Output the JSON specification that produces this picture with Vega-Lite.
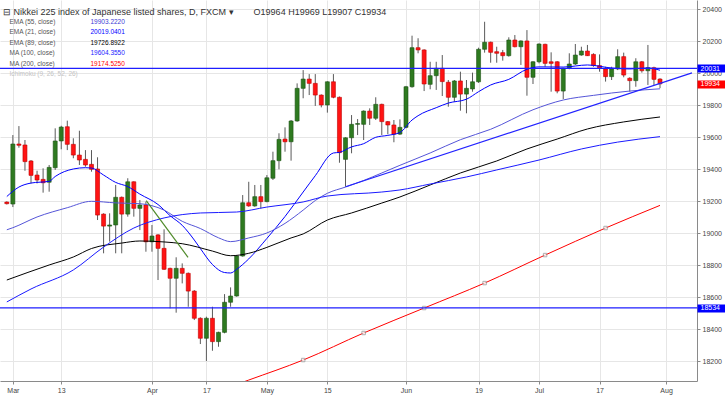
{
  "$schema": "https://vega.github.io/schema/vega-lite/v6.json",
  "width": 697,
  "height": 381,
  "autosize": "none",
  "padding": {"left": 0, "top": 0, "right": 28, "bottom": 15},
  "background": "white",
  "config": {
    "view": {"stroke": null},
    "font": "Liberation Sans",
    "axis": {
      "grid": true, "gridColor": "#e6e6e6", "domainColor": "#8a8a8a",
      "tickColor": "#8a8a8a", "tickSize": 3, "labelFontSize": 7,
      "labelColor": "#444444", "labelPadding": 2, "labelOverlap": false
    }
  },
  "title": {
    "text": "⊟ Nikkei 225 index of Japanese listed shares, D, FXCM ▾\u00a0\u00a0\u00a0\u00a0\u00a0\u00a0\u00a0 O19964 H19969 L19907 C19934",
    "anchor": "start",
    "frame": "group",
    "orient": "top",
    "offset": -17,
    "dx": 3,
    "fontSize": 9,
    "fontWeight": "normal",
    "color": "#333333"
  },
  "resolve": {"axis": {"y": "independent"}},
  "datasets": {
    "candles": [
      {"i":-1,"o":19195,"h":19200,"l":19180,"c":19185},
      {"i":0,"o":19183,"h":19614,"l":19164,"c":19558},
      {"i":1,"o":19558,"h":19670,"l":19535,"c":19550},
      {"i":2,"o":19552,"h":19583,"l":19391,"c":19448},
      {"i":3,"o":19452,"h":19458,"l":19312,"c":19362},
      {"i":4,"o":19364,"h":19391,"l":19312,"c":19333},
      {"i":5,"o":19337,"h":19406,"l":19254,"c":19316},
      {"i":6,"o":19319,"h":19427,"l":19260,"c":19412},
      {"i":7,"o":19410,"h":19656,"l":19396,"c":19577},
      {"i":8,"o":19577,"h":19672,"l":19525,"c":19664},
      {"i":9,"o":19666,"h":19704,"l":19520,"c":19556},
      {"i":10,"o":19556,"h":19594,"l":19469,"c":19489},
      {"i":11,"o":19489,"h":19641,"l":19427,"c":19458},
      {"i":12,"o":19462,"h":19520,"l":19416,"c":19427},
      {"i":13,"o":19431,"h":19520,"l":19385,"c":19400},
      {"i":14,"o":19402,"h":19475,"l":19083,"c":19114},
      {"i":15,"o":19120,"h":19125,"l":18875,"c":19045},
      {"i":16,"o":19045,"h":19125,"l":18948,"c":19052},
      {"i":17,"o":19052,"h":19302,"l":18875,"c":19225},
      {"i":18,"o":19225,"h":19230,"l":18875,"c":19120},
      {"i":19,"o":19120,"h":19344,"l":19104,"c":19322},
      {"i":20,"o":19322,"h":19325,"l":19104,"c":19156},
      {"i":21,"o":19156,"h":19208,"l":19020,"c":19177},
      {"i":22,"o":19177,"h":19198,"l":18885,"c":18947},
      {"i":23,"o":18947,"h":19052,"l":18885,"c":18983},
      {"i":24,"o":18990,"h":18995,"l":18708,"c":18906},
      {"i":25,"o":18906,"h":19025,"l":18771,"c":18775},
      {"i":26,"o":18781,"h":18785,"l":18531,"c":18719},
      {"i":27,"o":18719,"h":18850,"l":18504,"c":18781},
      {"i":28,"o":18781,"h":18812,"l":18687,"c":18750},
      {"i":29,"o":18750,"h":18755,"l":18541,"c":18639},
      {"i":30,"o":18639,"h":18645,"l":18458,"c":18469},
      {"i":31,"o":18469,"h":18475,"l":18308,"c":18344},
      {"i":32,"o":18344,"h":18479,"l":18202,"c":18469},
      {"i":33,"o":18469,"h":18541,"l":18266,"c":18323},
      {"i":34,"o":18323,"h":18385,"l":18291,"c":18381},
      {"i":35,"o":18381,"h":18620,"l":18375,"c":18569},
      {"i":36,"o":18569,"h":18662,"l":18541,"c":18608},
      {"i":37,"o":18608,"h":18862,"l":18604,"c":18858},
      {"i":38,"o":18858,"h":19239,"l":18854,"c":19191},
      {"i":39,"o":19191,"h":19322,"l":19166,"c":19171},
      {"i":40,"o":19171,"h":19302,"l":19166,"c":19229},
      {"i":41,"o":19229,"h":19302,"l":19156,"c":19198},
      {"i":42,"o":19198,"h":19364,"l":19194,"c":19347},
      {"i":43,"o":19344,"h":19510,"l":19333,"c":19454},
      {"i":44,"o":19454,"h":19625,"l":19400,"c":19587},
      {"i":45,"o":19589,"h":19662,"l":19510,"c":19572},
      {"i":46,"o":19572,"h":19708,"l":19454,"c":19702},
      {"i":47,"o":19702,"h":19937,"l":19697,"c":19906},
      {"i":48,"o":19906,"h":20020,"l":19844,"c":19964},
      {"i":49,"o":19964,"h":19995,"l":19864,"c":19937},
      {"i":50,"o":19937,"h":19995,"l":19796,"c":19864},
      {"i":51,"o":19864,"h":19868,"l":19787,"c":19802},
      {"i":52,"o":19802,"h":19950,"l":19754,"c":19947},
      {"i":53,"o":19947,"h":19995,"l":19844,"c":19850},
      {"i":54,"o":19850,"h":19855,"l":19441,"c":19504},
      {"i":55,"o":19462,"h":19600,"l":19291,"c":19597},
      {"i":56,"o":19597,"h":19739,"l":19500,"c":19681},
      {"i":57,"o":19681,"h":19714,"l":19614,"c":19686},
      {"i":58,"o":19681,"h":19768,"l":19583,"c":19764},
      {"i":59,"o":19764,"h":19781,"l":19677,"c":19719},
      {"i":60,"o":19719,"h":19850,"l":19708,"c":19806},
      {"i":61,"o":19806,"h":19810,"l":19614,"c":19698},
      {"i":62,"o":19698,"h":19702,"l":19619,"c":19677},
      {"i":63,"o":19677,"h":19708,"l":19569,"c":19620},
      {"i":64,"o":19620,"h":19712,"l":19614,"c":19662},
      {"i":65,"o":19662,"h":19921,"l":19656,"c":19916},
      {"i":66,"o":19916,"h":20235,"l":19910,"c":20160},
      {"i":67,"o":20160,"h":20219,"l":20125,"c":20146},
      {"i":68,"o":20146,"h":20150,"l":19889,"c":19933},
      {"i":69,"o":19931,"h":20072,"l":19900,"c":19985},
      {"i":70,"o":19985,"h":20072,"l":19896,"c":20031},
      {"i":71,"o":20031,"h":20114,"l":19858,"c":19948},
      {"i":72,"o":19944,"h":19958,"l":19791,"c":19850},
      {"i":73,"o":19850,"h":19958,"l":19822,"c":19952},
      {"i":74,"o":19952,"h":20010,"l":19766,"c":19870},
      {"i":75,"o":19870,"h":19958,"l":19750,"c":19906},
      {"i":76,"o":19902,"h":20004,"l":19885,"c":19947},
      {"i":77,"o":19947,"h":20160,"l":19940,"c":20150},
      {"i":78,"o":20150,"h":20322,"l":20129,"c":20194},
      {"i":79,"o":20194,"h":20198,"l":20066,"c":20131},
      {"i":80,"o":20135,"h":20166,"l":20066,"c":20125},
      {"i":81,"o":20129,"h":20146,"l":20079,"c":20110},
      {"i":82,"o":20110,"h":20225,"l":20104,"c":20208},
      {"i":83,"o":20208,"h":20239,"l":20162,"c":20166},
      {"i":84,"o":20166,"h":20206,"l":20052,"c":20202},
      {"i":85,"o":20202,"h":20270,"l":19860,"c":19975},
      {"i":86,"o":19975,"h":20076,"l":19933,"c":20072},
      {"i":87,"o":20072,"h":20187,"l":20062,"c":20183},
      {"i":88,"o":20181,"h":20185,"l":20041,"c":20062},
      {"i":89,"o":20072,"h":20131,"l":19885,"c":20062},
      {"i":90,"o":20072,"h":20076,"l":19875,"c":19889},
      {"i":91,"o":19889,"h":20035,"l":19839,"c":20031},
      {"i":92,"o":20031,"h":20125,"l":20025,"c":20058},
      {"i":93,"o":20058,"h":20183,"l":20052,"c":20114},
      {"i":94,"o":20114,"h":20166,"l":20110,"c":20139},
      {"i":95,"o":20139,"h":20177,"l":20108,"c":20110},
      {"i":96,"o":20118,"h":20125,"l":20041,"c":20048},
      {"i":97,"o":20048,"h":20118,"l":20010,"c":20031},
      {"i":98,"o":20027,"h":20041,"l":19948,"c":19979},
      {"i":99,"o":19979,"h":20041,"l":19958,"c":20027},
      {"i":100,"o":20027,"h":20150,"l":20020,"c":20104},
      {"i":101,"o":20104,"h":20129,"l":19975,"c":19989},
      {"i":102,"o":19969,"h":19975,"l":19885,"c":19954},
      {"i":103,"o":19954,"h":20094,"l":19916,"c":20072},
      {"i":104,"o":20072,"h":20077,"l":20004,"c":20016},
      {"i":105,"o":20016,"h":20177,"l":19927,"c":20035},
      {"i":106,"o":20035,"h":20041,"l":19927,"c":19962},
      {"i":107,"o":19964,"h":19969,"l":19907,"c":19934}
    ],
    "ma": [
      {"s":"e21","i":-1,"v":19230},{"s":"e21","i":1,"v":19289},{"s":"e21","i":3,"v":19314},{"s":"e21","i":6,"v":19325},{"s":"e21","i":7,"v":19355},{"s":"e21","i":10,"v":19402},{"s":"e21","i":12,"v":19410},{"s":"e21","i":13,"v":19408},{"s":"e21","i":15,"v":19364},{"s":"e21","i":17,"v":19318},{"s":"e21","i":19,"v":19292},{"s":"e21","i":21,"v":19245},{"s":"e21","i":24,"v":19180},{"s":"e21","i":26,"v":19110},{"s":"e21","i":28,"v":19050},{"s":"e21","i":30,"v":18958},{"s":"e21","i":31,"v":18905},{"s":"e21","i":33,"v":18805},{"s":"e21","i":35,"v":18755},{"s":"e21","i":36,"v":18752},{"s":"e21","i":37,"v":18775},{"s":"e21","i":39,"v":18840},{"s":"e21","i":42,"v":18968},{"s":"e21","i":45,"v":19105},{"s":"e21","i":48,"v":19258},{"s":"e21","i":50,"v":19360},{"s":"e21","i":53,"v":19502},{"s":"e21","i":54,"v":19506},{"s":"e21","i":56,"v":19540},{"s":"e21","i":58,"v":19560},{"s":"e21","i":60,"v":19600},{"s":"e21","i":62,"v":19612},{"s":"e21","i":64,"v":19630},{"s":"e21","i":66,"v":19708},{"s":"e21","i":67,"v":19735},{"s":"e21","i":70,"v":19785},{"s":"e21","i":72,"v":19814},{"s":"e21","i":75,"v":19838},{"s":"e21","i":77,"v":19885},{"s":"e21","i":79,"v":19927},{"s":"e21","i":82,"v":19962},{"s":"e21","i":85,"v":20025},{"s":"e21","i":87,"v":20040},{"s":"e21","i":91,"v":20039},{"s":"e21","i":95,"v":20052},{"s":"e21","i":99,"v":20033},{"s":"e21","i":102,"v":20027},{"s":"e21","i":105,"v":20033},{"s":"e21","i":107,"v":20019},
      {"s":"e55","i":-1,"v":19022},{"s":"e55","i":0,"v":19035},{"s":"e55","i":4,"v":19102},{"s":"e55","i":9,"v":19160},{"s":"e55","i":13,"v":19200},{"s":"e55","i":17,"v":19190},{"s":"e55","i":21,"v":19185},{"s":"e55","i":25,"v":19145},{"s":"e55","i":28,"v":19075},{"s":"e55","i":31,"v":19030},{"s":"e55","i":34,"v":18972},{"s":"e55","i":36,"v":18948},{"s":"e55","i":39,"v":18971},{"s":"e55","i":42,"v":19002},{"s":"e55","i":45,"v":19062},{"s":"e55","i":48,"v":19145},{"s":"e55","i":50,"v":19205},{"s":"e55","i":52,"v":19250},{"s":"e55","i":55,"v":19289},{"s":"e55","i":58,"v":19330},{"s":"e55","i":61,"v":19377},{"s":"e55","i":64,"v":19425},{"s":"e55","i":69,"v":19502},{"s":"e55","i":74,"v":19585},{"s":"e55","i":79,"v":19650},{"s":"e55","i":86,"v":19772},{"s":"e55","i":91,"v":19833},{"s":"e55","i":96,"v":19862},{"s":"e55","i":102,"v":19889},{"s":"e55","i":107,"v":19903},
      {"s":"e89","i":-1,"v":18708},{"s":"e89","i":6,"v":18802},{"s":"e89","i":10,"v":18852},{"s":"e89","i":13,"v":18905},{"s":"e89","i":18,"v":18939},{"s":"e89","i":21,"v":18952},{"s":"e89","i":25,"v":18946},{"s":"e89","i":28,"v":18935},{"s":"e89","i":33,"v":18889},{"s":"e89","i":36,"v":18860},{"s":"e89","i":39,"v":18875},{"s":"e89","i":42,"v":18912},{"s":"e89","i":46,"v":18971},{"s":"e89","i":48,"v":18996},{"s":"e89","i":52,"v":19083},{"s":"e89","i":56,"v":19127},{"s":"e89","i":61,"v":19189},{"s":"e89","i":64,"v":19227},{"s":"e89","i":69,"v":19302},{"s":"e89","i":74,"v":19377},{"s":"e89","i":80,"v":19452},{"s":"e89","i":85,"v":19527},{"s":"e89","i":90,"v":19589},{"s":"e89","i":95,"v":19652},{"s":"e89","i":101,"v":19696},{"s":"e89","i":107,"v":19727},
      {"s":"m100","i":-1,"v":18571},{"s":"m100","i":3,"v":18652},{"s":"m100","i":10,"v":18771},{"s":"m100","i":15,"v":18914},{"s":"m100","i":20,"v":19033},{"s":"m100","i":25,"v":19096},{"s":"m100","i":31,"v":19127},{"s":"m100","i":37,"v":19133},{"s":"m100","i":42,"v":19164},{"s":"m100","i":48,"v":19196},{"s":"m100","i":52,"v":19233},{"s":"m100","i":61,"v":19258},{"s":"m100","i":64,"v":19271},{"s":"m100","i":69,"v":19308},{"s":"m100","i":75,"v":19352},{"s":"m100","i":80,"v":19396},{"s":"m100","i":87,"v":19458},{"s":"m100","i":94,"v":19527},{"s":"m100","i":100,"v":19570},{"s":"m100","i":107,"v":19604},
      {"s":"m200","i":30,"v":17960},{"s":"m200","i":39,"v":18083},{"s":"m200","i":48,"v":18208},{"s":"m200","i":58,"v":18377},{"s":"m200","i":68,"v":18533},{"s":"m200","i":78,"v":18689},{"s":"m200","i":88,"v":18864},{"s":"m200","i":98,"v":19033},{"s":"m200","i":107,"v":19174.5}
    ],
    "levels": [
      {"level":20031,"t":"h"},
      {"level":18534,"t":"h"}
    ],
    "trends": [
      {"i":55,"v":19291,"i2":112.29,"v2":20003,"t":"b"},
      {"i":22.05,"v":19204,"i2":28.96,"v2":18850,"t":"g"}
    ]
  },
  "encoding": {
    "x": {
      "field": "i", "type": "quantitative", "title": null,
      "scale": {"domain": [-1.3, 112.29], "nice": false, "zero": false},
      "axis": {
        "orient": "bottom",
        "values": [0, 8, 23, 32, 42, 52, 65, 77, 87, 97, 108],
        "labelExpr": "['Mar','13','Apr','17','May','15','Jun','19','Jul','17','Aug'][indexof([0,8,23,32,42,52,65,77,87,97,108], datum.value)]",
        "labelFlush": false
      }
    }
  },
  "layer": [
    {
      "data": {"name": "candles"},
      "mark": {"type": "rule", "color": "#5a5a5a", "strokeWidth": 1, "clip": true},
      "encoding": {
        "y": {
          "field": "l", "type": "quantitative", "title": null,
          "scale": {"domain": [18077, 20458], "nice": false, "zero": false},
          "axis": {
            "orient": "right",
            "values": [18200, 18400, 18600, 18800, 19000, 19200, 19400, 19600, 19800, 20000, 20200, 20400],
            "format": "d",
            "labelOverlap": false
          }
        },
        "y2": {"field": "h"}
      }
    },
    {
      "data": {"name": "candles"},
      "mark": {"type": "bar", "size": 4, "strokeWidth": 0.6, "clip": true},
      "encoding": {
        "y": {"field": "o", "type": "quantitative", "title": null, "axis": null},
        "y2": {"field": "c"},
        "fill": {"condition": {"test": "datum.c >= datum.o", "value": "#2e7a20"}, "value": "#ff1414"},
        "stroke": {"condition": {"test": "datum.c >= datum.o", "value": "#1d5214"}, "value": "#c00000"}
      }
    },
    {
      "data": {"name": "ma"},
      "mark": {"type": "line", "interpolate": "monotone", "clip": true},
      "encoding": {
        "y": {"field": "v", "type": "quantitative", "title": null, "axis": null},
        "color": {
          "field": "s", "type": "nominal",
          "scale": {
            "domain": ["e55", "e21", "e89", "m100", "m200", "ich"],
            "range": ["#5555d8", "#0000ff", "#000000", "#1a1aff", "#ff0000", "#cccccc"]
          },
          "legend": {
            "orient": "none", "legendX": 3, "legendY": 18.5, "direction": "vertical",
            "title": null, "padding": 0, "symbolSize": 0, "symbolOpacity": 0,
            "symbolStrokeWidth": 0, "labelOffset": 0, "labelFontSize": 6.5,
            "rowPadding": 3.5, "labelColor": "#555555",
            "labelExpr": "['EMA (55, close)','EMA (21, close)','EMA (89, close)','MA (100, close)','MA (200, close)','Ichimoku (9, 26, 52, 26)'][indexof(['e55','e21','e89','m100','m200','ich'], datum.value)]",
            "encode": {"labels": {"update": {"fill": {"signal": "datum.value == 'ich' ? '#c4c4c4' : '#555555'"}}}}
          }
        },
        "strokeWidth": {
          "field": "s", "type": "nominal",
          "scale": {"domain": ["e55", "e21", "e89", "m100", "m200", "ich"], "range": [1, 1, 1.2, 1, 1.6, 1]},
          "legend": null
        }
      }
    },
    {
      "data": {"name": "ma"},
      "transform": [{"filter": "datum.s == 'm200' && datum.i % 10 == 8"}],
      "mark": {"type": "point", "shape": "square", "size": 12, "filled": true, "fill": "#ffffff", "stroke": "#8c8c8c", "strokeWidth": 1, "clip": true},
      "encoding": {
        "y": {"field": "v", "type": "quantitative", "title": null, "axis": null}
      }
    },
    {
      "data": {"name": "ma"},
      "transform": [{"filter": "datum.s != 'ich'"}],
      "mark": {"type": "point", "opacity": 0, "filled": true, "clip": true},
      "encoding": {
        "y": {"field": "v", "type": "quantitative", "title": null, "axis": null},
        "fill": {
          "field": "s", "type": "nominal",
          "scale": {
            "domain": ["e55", "e21", "e89", "m100", "m200"],
            "range": ["#3b3bd6", "#0000ff", "#000000", "#1a1aff", "#ff0000"]
          },
          "legend": {
            "orient": "none", "legendX": 84, "legendY": 18.5, "direction": "vertical",
            "title": null, "padding": 0, "symbolSize": 0, "symbolOpacity": 0,
            "symbolStrokeWidth": 0, "labelOffset": 0, "labelFontSize": 6.5,
            "rowPadding": 3.5,
            "labelExpr": "['19903.2220','20019.0401','19726.8922','19604.3550','19174.5250'][indexof(['e55','e21','e89','m100','m200'], datum.value)]",
            "encode": {"labels": {"update": {"fill": {"signal": "['#3b3bd6','#0000ff','#000000','#1a1aff','#ff0000'][indexof(['e55','e21','e89','m100','m200'], datum.value)]"}}}}
          }
        }
      }
    },
    {
      "data": {"name": "trends"},
      "mark": {"type": "rule", "strokeWidth": 1.2, "clip": true},
      "encoding": {
        "y": {"field": "v", "type": "quantitative", "title": null, "axis": null},
        "x2": {"field": "i2"},
        "y2": {"field": "v2"},
        "color": {"condition": {"test": "datum.t == 'g'", "value": "#4f8a2a"}, "value": "#2222ff"}
      }
    },
    {
      "data": {"name": "levels"},
      "mark": {"type": "rule", "color": "#1e1eff", "strokeWidth": 1.2},
      "encoding": {
        "x": null,
        "y": {
          "field": "level", "type": "quantitative", "title": null,
          "axis": {
            "orient": "right",
            "values": [20031, 19934, 18534],
            "format": "d",
            "grid": false,
            "domain": false,
            "labelOverlap": false,
            "tickSize": 28,
            "tickWidth": 8,
            "tickColor": {"condition": {"test": "datum.value == 19934", "value": "#ff0000"}, "value": "#0000ff"},
            "labelColor": "#ffffff",
            "labelFontSize": 7,
            "labelPadding": -25,
            "zindex": 1
          }
        }
      }
    }
  ]
}
